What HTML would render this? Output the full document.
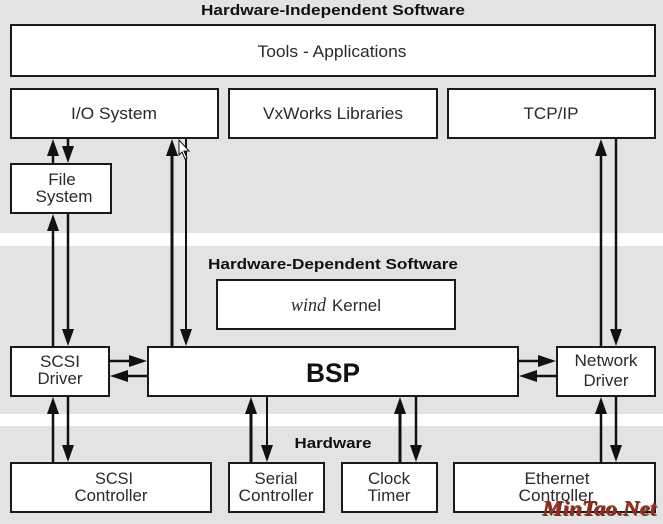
<!DOCTYPE html>
<html><head><meta charset="utf-8"><style>
html,body{margin:0;padding:0;background:#e3e3e3;}
svg{display:block;}
text{font-family:"Liberation Sans",sans-serif;fill:#2a2a2a;}
.t{font-size:17px;text-anchor:middle;}
.h{font-size:15px;font-weight:bold;text-anchor:middle;fill:#111;}
</style></head><body>
<svg width="663" height="524" viewBox="0 0 663 524" xmlns="http://www.w3.org/2000/svg">
<rect x="0" y="0" width="663" height="524" fill="#e3e3e3"/>
<rect x="0" y="233" width="663" height="13" fill="#fff"/>
<rect x="0" y="414" width="663" height="12" fill="#fff"/>

<g fill="#fff" stroke="#1a1a1a" stroke-width="2">
<rect x="11" y="25" width="644" height="51"/>
<rect x="11" y="89" width="207" height="49"/>
<rect x="229" y="89" width="208" height="49"/>
<rect x="448" y="89" width="207" height="49"/>
<rect x="11" y="164" width="100" height="49"/>
<rect x="217" y="280" width="238" height="49"/>
<rect x="11" y="347" width="98" height="49"/>
<rect x="148" y="347" width="370" height="49"/>
<rect x="557" y="347" width="98" height="49"/>
<rect x="11" y="463" width="200" height="49"/>
<rect x="229" y="463" width="95" height="49"/>
<rect x="342" y="463" width="95" height="49"/>
<rect x="454" y="463" width="201" height="49"/>
</g>

<g stroke="#111" fill="none">
<line x1="53" y1="164" x2="53" y2="150" stroke-width="2.5"/>
<line x1="68" y1="138" x2="68" y2="152" stroke-width="2.5"/>
<line x1="53" y1="347" x2="53" y2="225" stroke-width="2.5"/>
<line x1="68" y1="213" x2="68" y2="335" stroke-width="2.5"/>
<line x1="172" y1="347" x2="172" y2="150" stroke-width="3"/>
<line x1="186" y1="138" x2="186" y2="335" stroke-width="2"/>
<line x1="601" y1="347" x2="601" y2="150" stroke-width="2.5"/>
<line x1="616" y1="138" x2="616" y2="335" stroke-width="2.5"/>
<line x1="53" y1="463" x2="53" y2="408" stroke-width="2.5"/>
<line x1="68" y1="396" x2="68" y2="451" stroke-width="2.5"/>
<line x1="251" y1="463" x2="251" y2="408" stroke-width="3"/>
<line x1="267" y1="396" x2="267" y2="451" stroke-width="2"/>
<line x1="400" y1="463" x2="400" y2="408" stroke-width="3"/>
<line x1="416" y1="396" x2="416" y2="451" stroke-width="2.5"/>
<line x1="601" y1="463" x2="601" y2="408" stroke-width="2.5"/>
<line x1="616" y1="396" x2="616" y2="451" stroke-width="2.5"/>
<line x1="109" y1="361" x2="132" y2="361" stroke-width="2.5"/>
<line x1="148" y1="376" x2="125" y2="376" stroke-width="2.5"/>
<line x1="518" y1="361" x2="541" y2="361" stroke-width="2.5"/>
<line x1="557" y1="376" x2="534" y2="376" stroke-width="2.5"/>
</g>

<g fill="#111">
<polygon points="53,139 47,156 59,156"/>
<polygon points="53,214 47,231 59,231"/>
<polygon points="172,139 166,156 178,156"/>
<polygon points="601,139 595,156 607,156"/>
<polygon points="53,397 47,414 59,414"/>
<polygon points="251,397 245,414 257,414"/>
<polygon points="400,397 394,414 406,414"/>
<polygon points="601,397 595,414 607,414"/>
<polygon points="68,163 62,146 74,146"/>
<polygon points="68,346 62,329 74,329"/>
<polygon points="186,346 180,329 192,329"/>
<polygon points="616,346 610,329 622,329"/>
<polygon points="68,462 62,445 74,445"/>
<polygon points="267,462 261,445 273,445"/>
<polygon points="416,462 410,445 422,445"/>
<polygon points="616,462 610,445 622,445"/>
<polygon points="147,361 129,355 129,367"/>
<polygon points="110,376 128,370 128,382"/>
<polygon points="556,361 538,355 538,367"/>
<polygon points="519,376 537,370 537,382"/>
</g>

<polygon points="179,140 179,155 182,152 185,159 187,158 184,151 189,151" fill="#fff" stroke="#111" stroke-width="1"/>

<text class="h" x="333" y="15" textLength="264" lengthAdjust="spacingAndGlyphs">Hardware-Independent Software</text>
<text class="t" x="332" y="57" textLength="149" lengthAdjust="spacingAndGlyphs">Tools - Applications</text>
<text class="t" x="114" y="119" textLength="86" lengthAdjust="spacingAndGlyphs">I/O System</text>
<text class="t" x="333" y="119" textLength="140" lengthAdjust="spacingAndGlyphs">VxWorks Libraries</text>
<text class="t" x="551" y="119" textLength="55" lengthAdjust="spacingAndGlyphs">TCP/IP</text>
<text class="t" x="62" y="185">File</text>
<text class="t" x="64" y="202" textLength="57" lengthAdjust="spacingAndGlyphs">System</text>

<text class="h" x="333" y="269" textLength="250" lengthAdjust="spacingAndGlyphs">Hardware-Dependent Software</text>
<text x="291" y="311" style="font-family:'Liberation Serif',serif;font-style:italic;font-size:19px;" textLength="35" lengthAdjust="spacingAndGlyphs">wind</text>
<text x="332" y="311" style="font-size:17px;" textLength="49" lengthAdjust="spacingAndGlyphs">Kernel</text>
<text class="t" x="60" y="367" textLength="40" lengthAdjust="spacingAndGlyphs">SCSI</text>
<text class="t" x="60" y="384" textLength="45" lengthAdjust="spacingAndGlyphs">Driver</text>
<text x="333" y="382" style="font-size:27px;font-weight:bold;text-anchor:middle;fill:#111;" textLength="54" lengthAdjust="spacingAndGlyphs">BSP</text>
<text class="t" x="606" y="366" textLength="63" lengthAdjust="spacingAndGlyphs">Network</text>
<text class="t" x="606" y="386" textLength="45" lengthAdjust="spacingAndGlyphs">Driver</text>

<text class="h" x="333" y="448" textLength="77" lengthAdjust="spacingAndGlyphs">Hardware</text>
<text class="t" x="114" y="484" textLength="38" lengthAdjust="spacingAndGlyphs">SCSI</text>
<text class="t" x="111" y="501" textLength="73" lengthAdjust="spacingAndGlyphs">Controller</text>
<text class="t" x="276" y="484" textLength="43" lengthAdjust="spacingAndGlyphs">Serial</text>
<text class="t" x="276" y="501" textLength="75" lengthAdjust="spacingAndGlyphs">Controller</text>
<text class="t" x="389" y="484" textLength="42" lengthAdjust="spacingAndGlyphs">Clock</text>
<text class="t" x="389" y="501" textLength="43" lengthAdjust="spacingAndGlyphs">Timer</text>
<text class="t" x="557" y="484" textLength="65" lengthAdjust="spacingAndGlyphs">Ethernet</text>
<text class="t" x="556" y="501" textLength="75" lengthAdjust="spacingAndGlyphs">Controller</text>

<text x="543" y="516" style="font-family:'Liberation Serif',serif;font-style:italic;font-weight:bold;font-size:21px;fill:#5a3a30;" textLength="114" lengthAdjust="spacingAndGlyphs">MinTao.Net</text>
<text x="542" y="515" style="font-family:'Liberation Serif',serif;font-style:italic;font-weight:bold;font-size:21px;fill:#9a2a1c;" textLength="114" lengthAdjust="spacingAndGlyphs">MinTao.Net</text>
</svg>
</body></html>
